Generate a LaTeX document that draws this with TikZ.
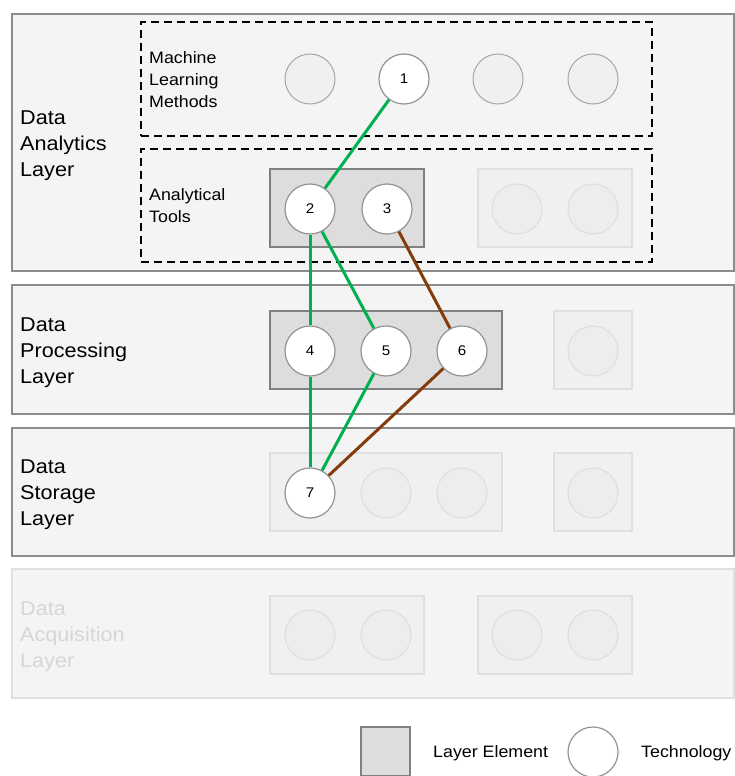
\documentclass[tikz,border=0pt]{standalone}
\usepackage{fontspec}
\setmainfont{Liberation Sans}[FakeStretch=1.08]
\usetikzlibrary{positioning}
\definecolor{layerfill}{HTML}{F4F4F4}
\definecolor{layerline}{HTML}{8C8C8C}
\definecolor{elemfill}{HTML}{DDDDDD}
\definecolor{fadefill}{HTML}{F0F0F0}
\definecolor{fadeline}{HTML}{E0E0E0}
\definecolor{linkgreen}{HTML}{00B050}
\definecolor{linkbrown}{HTML}{843C0C}

\begin{document}
\begin{tikzpicture}[x=1pt, y=-1pt,
    layer/.style={draw=layerline, line width=1.4pt, fill=layerfill, minimum width=722pt, inner sep=0pt},
    layertext/.style={anchor=west, align=left, inner sep=0pt, font=\fontsize{20}{26}\selectfont},
    group/.style={draw, dash pattern=on 8pt off 5pt, line width=1.3pt, minimum width=511pt, inner sep=0pt},
    grouptext/.style={anchor=west, align=left, inner sep=0pt, font=\fontsize{16.5}{22}\selectfont},
    elem/.style={draw=gray, line width=1.2pt, fill=elemfill, minimum height=78pt, inner sep=0pt},
    fadeelem/.style={draw=fadeline, line width=1.2pt, fill=fadefill, minimum height=78pt, inner sep=0pt},
    tech/.style={circle, draw=gray!85, line width=1.2pt, fill=white, minimum size=50pt, inner sep=0pt, font=\fontsize{14}{14}\selectfont},
    mltech/.style={circle, draw=gray!70, line width=1pt, fill=gray!12, minimum size=50pt, inner sep=0pt},
    fadetech/.style={circle, draw=gray!25, line width=1.2pt, fill=gray!14, minimum size=50pt, inner sep=0pt},
    legtext/.style={anchor=west, inner sep=0pt, font=\fontsize{16.5}{16.5}\selectfont},
    link/.style={line width=3pt}]

  \useasboundingbox (0,0) rectangle (735,776);

  % layers
  \node[layer, minimum height=257pt] (analytics) at (373,142.5) {};
  \node[layer, minimum height=129pt] (processing) at (373,349.5) {};
  \node[layer, minimum height=128pt] (storage) at (373,492) {};
  \node[layer, draw=fadeline, minimum height=129pt] (acquisition) at (373,633.5) {};

  \node[layertext] (analyticslbl) at (20,146) {Data\\Analytics\\Layer};
  \node[layertext] (processinglbl) at (20,353) {Data\\Processing\\Layer};
  \node[layertext] (storagelbl) at (20,495) {Data\\Storage\\Layer};
  \node[layertext, text=gray!32] (acquisitionlbl) at (20,637) {Data\\Acquisition\\Layer};

  % analytics groups
  \node[group, minimum height=114pt] (mlgroup) at (396.5,79) {};
  \node[group, minimum height=113pt] (atgroup) at (396.5,205.5) {};
  \node[grouptext] (mllbl) at (149,80) {Machine\\Learning\\Methods};
  \node[grouptext] (atlbl) at (149,206) {Analytical\\Tools};

  % layer elements
  \node[elem, minimum width=154pt] (atelem) at (347,208) {};
  \node[fadeelem, minimum width=154pt] (atfade) at (555,208) {};
  \node[elem, minimum width=232pt] (procelem) at (386,350) {};
  \node[fadeelem, minimum width=78pt] (procfade) at (593,350) {};
  \node[fadeelem, minimum width=232pt] (storelem) at (386,492) {};
  \node[fadeelem, minimum width=78pt] (storfade) at (593,492) {};
  \node[fadeelem, minimum width=154pt] (acqelemA) at (347,635) {};
  \node[fadeelem, minimum width=154pt] (acqelemB) at (555,635) {};

  % faded technologies
  \node[mltech] (mlA) at (310,79) {};
  \node[mltech] (mlB) at (498,79) {};
  \node[mltech] (mlC) at (593,79) {};
  \node[fadetech] (atA) at (517,209) {};
  \node[fadetech] (atB) at (593,209) {};
  \node[fadetech] (procA) at (593,351) {};
  \node[fadetech] (storA) at (386,493) {};
  \node[fadetech] (storB) at (462,493) {};
  \node[fadetech] (storC) at (593,493) {};
  \foreach \x in {310,386,517,593}
    \node[fadetech] at (\x,635) {};

  % technologies
  \node[tech] (t1) at (404,79) {1};
  \node[tech] (t2) at (310,209) {2};
  \node[tech] (t3) at (387,209) {3};
  \node[tech] (t4) at (310,351) {4};
  \node[tech] (t5) at (386,351) {5};
  \node[tech] (t6) at (462,351) {6};
  \node[tech] (t7) at (310,493) {7};

  \draw[link, linkgreen] (t1) -- (t2);
  \draw[link, linkgreen] (t2) -- (t4);
  \draw[link, linkgreen] (t2) -- (t5);
  \draw[link, linkgreen] (t4) -- (t7);
  \draw[link, linkgreen] (t5) -- (t7);
  \draw[link, linkbrown] (t3) -- (t6);
  \draw[link, linkbrown] (t6) -- (t7);

  % legend
  \node[elem, minimum width=49pt, minimum height=49pt] (legelem) at (385.5,751.5) {};
  \node[legtext] (legelemlbl) at (433,753) {Layer Element};
  \node[tech] (legtech) at (593,752) {};
  \node[legtext] (legtechlbl) at (641,753) {Technology};
\end{tikzpicture}
\end{document}
